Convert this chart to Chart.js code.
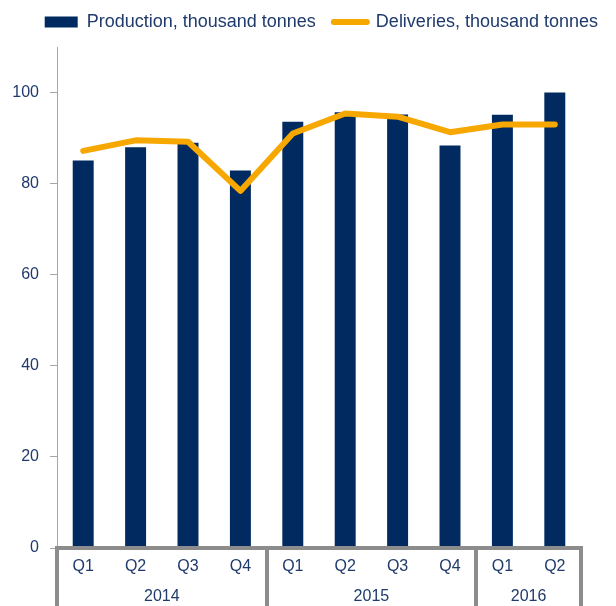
<!DOCTYPE html>
<html>
<head>
<meta charset="utf-8">
<script src="https://cdn.jsdelivr.net/npm/chart.js@4.4.1/dist/chart.umd.min.js"></script>
<style>
  html, body { margin: 0; padding: 0; background: #fff; }
  #wrap { width: 616px; height: 606px; }
</style>
</head>
<body>
<div id="wrap"><canvas id="chart"></canvas></div>
<script>
const quarters = ["Q1", "Q2", "Q3", "Q4", "Q1", "Q2", "Q3", "Q4", "Q1", "Q2"];
const years = ["2014", "2015", "2016"];
const yearSizes = [4, 4, 2];
const production = [85.1, 88.0, 89.0, 82.9, 93.6, 95.7, 95.2, 88.4, 95.1, 100.0];
const deliveries = [87.2, 89.5, 89.2, 78.4, 91.0, 95.4, 94.7, 91.3, 93.0, 93.0];
const yTicks = [0, 20, 40, 60, 80, 100];

const NAVY = "#012a60";
const ORANGE = "#f7a800";
const TEXT = "#1f3a6b";
const AXIS = "#8c8c8c";
const FONT = "'Liberation Sans', Arial, sans-serif";

// group boundaries / centres on the quarter index scale
const groupStarts = [];
const yearCentres = [];
let acc = 0;
yearSizes.forEach((n) => {
  groupStarts.push(acc);
  yearCentres.push(acc + (n - 1) / 2);
  acc += n;
});
const boundaries = groupStarts.map(s => s - 0.5).concat([acc - 0.5]);
const yearTickValues = boundaries.concat(yearCentres).sort((a, b) => a - b);

// legend sits a bit further from the plot than chart.js gives by default
const legendGap = {
  id: "legendGap",
  beforeInit(chart) {
    const fit = chart.legend.fit;
    chart.legend.fit = function () {
      fit.bind(chart.legend)();
      this.height += 6;
    };
  },
};

new Chart(document.getElementById("chart"), {
  type: "bar",
  data: {
    labels: quarters,
    datasets: [
      {
        type: "line",
        label: "Deliveries, thousand tonnes",
        data: deliveries,
        borderColor: ORANGE,
        backgroundColor: ORANGE,
        borderWidth: 6,
        pointRadius: 0,
        tension: 0,
        borderCapStyle: "round",
        borderJoinStyle: "round",
        xAxisID: "x",
        yAxisID: "y",
      },
      {
        label: "Production, thousand tonnes",
        data: production,
        backgroundColor: NAVY,
        borderWidth: 0,
        categoryPercentage: 1,
        barPercentage: 0.4,
        xAxisID: "x",
        yAxisID: "y",
      },
    ],
  },
  options: {
    responsive: true,
    maintainAspectRatio: false,
    animation: false,
    layout: { padding: { left: 0, top: -5, right: 0, bottom: 0 } },
    plugins: {
      tooltip: { enabled: false },
      legend: {
        position: "top",
        align: "end",
        labels: {
          color: TEXT,
          font: { family: FONT, size: 18 },
          usePointStyle: true,
          pointStyleWidth: 33,
          boxHeight: 11,
          padding: 18,
          generateLabels: (chart) => {
            const items = Chart.defaults.plugins.legend.labels.generateLabels(chart);
            items.forEach((it) => {
              const ds = chart.data.datasets[it.datasetIndex];
              if (ds.type === "line") {
                it.pointStyle = "line";
                it.lineWidth = 6;
                it.strokeStyle = ORANGE;
                it.lineCap = "round";
              } else {
                it.pointStyle = "rect";
                it.lineWidth = 0;
                it.fillStyle = NAVY;
              }
            });
            return items.sort((a, b) => b.datasetIndex - a.datasetIndex);
          },
        },
      },
    },
    scales: {
      x: {
        type: "category",
        position: "bottom",
        offset: true,
        grid: {
          offset: true,
          drawOnChartArea: false,
          drawTicks: true,
          tickLength: 32,
          lineWidth: 4,
          color: (c) => (c.type !== "tick" || groupStarts.includes(c.index)) ? AXIS : "rgba(0,0,0,0)",
        },
        border: { color: AXIS, width: 4, z: 1 },
        ticks: {
          color: TEXT,
          font: { family: FONT, size: 16 },
          padding: -23,
          maxRotation: 0,
          autoSkip: false,
        },
        afterFit: (s) => { s.height = 32; },
      },
      x2: {
        type: "linear",
        position: "bottom",
        min: -0.5,
        max: acc - 0.5,
        offset: false,
        afterBuildTicks: (s) => { s.ticks = yearTickValues.map(v => ({ value: v })); },
        grid: {
          offset: false,
          drawOnChartArea: false,
          drawTicks: true,
          tickLength: 26,
          lineWidth: 4,
          color: (c) => (c.tick && yearCentres.includes(c.tick.value)) ? "rgba(0,0,0,0)" : AXIS,
        },
        border: { display: false },
        ticks: {
          color: TEXT,
          font: { family: FONT, size: 16 },
          padding: -19,
          maxRotation: 0,
          autoSkip: false,
          callback: (v) => {
            const i = yearCentres.indexOf(v);
            return i >= 0 ? years[i] : "";
          },
        },
        afterFit: (s) => { s.height = 26; },
      },
      y: {
        min: 0,
        max: 110,
        afterBuildTicks: (s) => { s.ticks = yTicks.map(v => ({ value: v })); },
        grid: { drawOnChartArea: false, tickLength: 7, color: "#a6a6a6" },
        border: { color: "#a6a6a6", width: 1 },
        ticks: {
          color: TEXT,
          font: { family: FONT, size: 16 },
          padding: 11,
        },
        afterFit: (s) => { s.width = 57; },
      },
      yR: {
        position: "right",
        grid: { display: false },
        border: { display: false },
        ticks: { display: false },
        afterFit: (s) => { s.width = 35; },
      },
    },
  },
  plugins: [legendGap],
});
</script>
</body>
</html>
